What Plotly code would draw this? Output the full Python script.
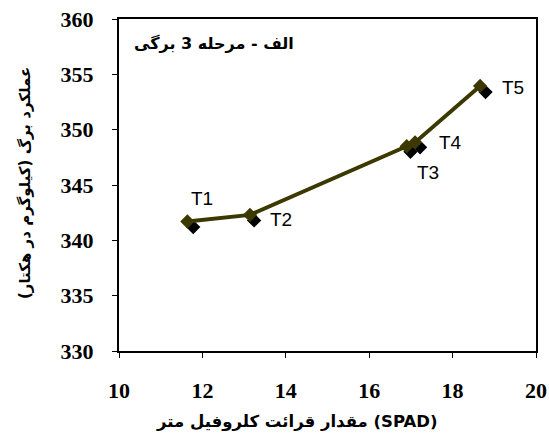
import plotly.graph_objects as go

labels = ["T1", "T2", "T3", "T4", "T5"]
spad = [11.64, 13.14, 16.90, 17.10, 18.66]
yield_vals = [341.7, 342.3, 348.5, 348.85, 353.95]
spad_obs = [11.78, 13.24, 16.99, 17.22, 18.79]
yield_obs = [341.2, 341.8, 348.0, 348.4, 353.4]

label_xshift = [15, 31, 21, 35, 33]
label_yshift = [23, -5, -26, 0, -2]

x_ticks = [10, 12, 14, 16, 18, 20]
y_ticks = [330, 335, 340, 345, 350, 355, 360]

olive = "#3b3800"

fig = go.Figure()
fig.add_trace(go.Scatter(
    x=spad_obs, y=yield_obs, mode="markers",
    marker=dict(symbol="diamond", size=11, color="black"),
    showlegend=False, hoverinfo="skip"))
fig.add_trace(go.Scatter(
    x=spad, y=yield_vals, mode="lines+markers",
    line=dict(color=olive, width=4),
    marker=dict(symbol="diamond", size=11, color=olive),
    showlegend=False))

for lab, xv, yv, dx, dy in zip(labels, spad, yield_vals, label_xshift, label_yshift):
    fig.add_annotation(x=xv, y=yv, text=lab, showarrow=False,
                       xshift=dx, yshift=dy,
                       font=dict(family="Liberation Sans, Arial", size=19, color="black"))

fig.add_annotation(xref="paper", yref="paper", x=(132 - 119) / 417, y=(351 - 43) / 332,
                   xanchor="left", yanchor="middle",
                   text="<b>الف - مرحله 3 برگی</b>", showarrow=False,
                   font=dict(family="DejaVu Sans", size=16, color="black"))

fig.add_annotation(xref="paper", yref="paper", x=(297 - 119) / 417, y=(351 - 422) / 332,
                   xanchor="center", yanchor="middle",
                   text="<b>مقدار قرائت کلروفیل متر (SPAD)</b>", showarrow=False,
                   font=dict(family="DejaVu Sans", size=16.5, color="black"))

fig.add_annotation(xref="paper", yref="paper", x=(25 - 119) / 417, y=(351 - 183) / 332,
                   xanchor="center", yanchor="middle", textangle=-90,
                   text="<b>عملکرد برگ (کیلوگرم در هکتار)</b>", showarrow=False,
                   font=dict(family="DejaVu Sans", size=15, color="black"))

axis_common = dict(showgrid=False, zeroline=False, showline=True, linecolor="black",
                   linewidth=2, mirror=True, ticks="outside", ticklen=5, tickwidth=1,
                   tickcolor="black",
                   tickfont=dict(family="Liberation Serif, Times New Roman", size=22,
                                 color="black", weight="bold"))

fig.update_xaxes(range=[10, 20], tickvals=x_ticks, ticklabelstandoff=14, **axis_common)
fig.update_yaxes(range=[330, 360], tickvals=y_ticks, ticklabelstandoff=14, **axis_common)

fig.update_layout(width=549, height=442,
                  margin=dict(l=119, r=13, t=19, b=91, autoexpand=False),
                  plot_bgcolor="white", paper_bgcolor="white")

fig.write_html("out.html", config={"displayModeBar": False},
               post_script="document.body.style.margin='0';document.body.style.padding='0';")
